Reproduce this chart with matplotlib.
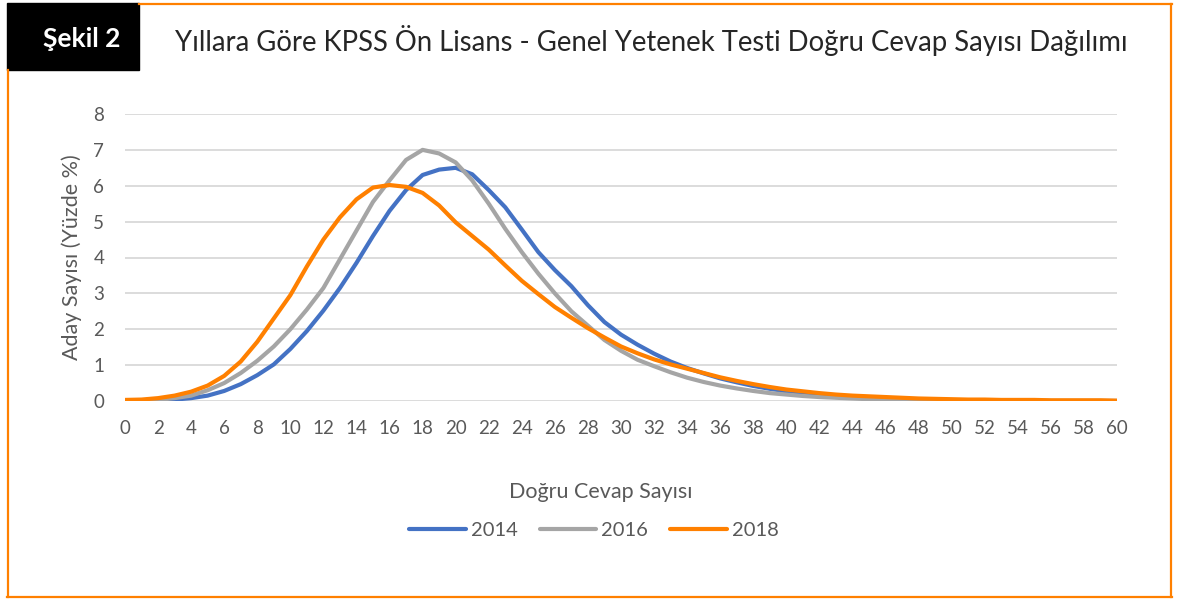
"""
KPSS Ön Lisans - Genel Yetenek Testi doğru cevap sayısı dağılımı (Şekil 2).
"""

import matplotlib
matplotlib.use("Agg")
import matplotlib.pyplot as plt
from matplotlib.lines import Line2D
from matplotlib.patches import Rectangle

W, H = 1180, 601

CORRECT_ANSWERS = list(range(0, 61))
X_TICKS = list(range(0, 61, 2))
Y_TICKS = list(range(0, 9))

SERIES_NAMES = ["2014", "2016", "2018"]

VALUES_2014 = [
    0.00, 0.01, 0.02, 0.04, 0.08, 0.15, 0.28, 0.47, 0.72, 1.02,
    1.45, 1.95, 2.52, 3.15, 3.85, 4.60, 5.30, 5.88, 6.30, 6.45,
    6.50, 6.32, 5.88, 5.40, 4.78, 4.15, 3.65, 3.20, 2.67, 2.20,
    1.85, 1.57, 1.32, 1.10, 0.92, 0.77, 0.63, 0.52, 0.42, 0.34,
    0.27, 0.22, 0.17, 0.13, 0.11, 0.08, 0.06, 0.05, 0.04, 0.03,
    0.02, 0.02, 0.01, 0.01, 0.01, 0.01, 0.00, 0.00, 0.00, 0.00,
    0.00,
]
VALUES_2016 = [
    0.00, 0.01, 0.03, 0.08, 0.15, 0.30, 0.50, 0.78, 1.12, 1.52,
    2.00, 2.55, 3.15, 3.95, 4.75, 5.55, 6.15, 6.72, 7.00, 6.90,
    6.65, 6.15, 5.50, 4.80, 4.15, 3.55, 3.00, 2.50, 2.10, 1.70,
    1.40, 1.15, 0.97, 0.80, 0.65, 0.53, 0.43, 0.35, 0.28, 0.22,
    0.18, 0.14, 0.11, 0.09, 0.07, 0.05, 0.04, 0.03, 0.02, 0.02,
    0.01, 0.01, 0.01, 0.00, 0.00, 0.00, 0.00, 0.00, 0.00, 0.00,
    0.00,
]
VALUES_2018 = [
    0.03, 0.04, 0.08, 0.15, 0.26, 0.43, 0.70, 1.10, 1.65, 2.30,
    2.95, 3.75, 4.50, 5.12, 5.62, 5.95, 6.02, 5.97, 5.80, 5.45,
    4.98, 4.60, 4.22, 3.78, 3.35, 2.98, 2.62, 2.32, 2.03, 1.77,
    1.52, 1.33, 1.16, 1.02, 0.90, 0.78, 0.66, 0.56, 0.47, 0.39,
    0.32, 0.27, 0.22, 0.18, 0.15, 0.13, 0.11, 0.09, 0.07, 0.06,
    0.05, 0.04, 0.04, 0.03, 0.03, 0.03, 0.02, 0.02, 0.02, 0.02,
    0.01,
]

COLORS = ["#4472C4", "#A5A5A5", "#FF8000"]
FRAME_COLOR = "#FF8000"
TEXT_GREY = "#595959"


def fx(px):
    return px / W


def fy(py):
    return 1 - py / H


def create_chart() -> None:
    plt.rcParams["font.family"] = ["Lato", "DejaVu Sans"]
    fig = plt.figure(figsize=(W / 100, H / 100), dpi=100)

    ax = fig.add_axes([fx(125), fy(401), fx(1117) - fx(125), fy(114) - fy(401)])
    for values, color, name in zip(
        [VALUES_2014, VALUES_2016, VALUES_2018], COLORS, SERIES_NAMES
    ):
        ax.plot(CORRECT_ANSWERS, values, color=color, lw=3,
                solid_capstyle="round", solid_joinstyle="round", label=name)

    ax.set_xlim(0, 60)
    ax.set_ylim(0, 8)
    ax.set_xticks(X_TICKS)
    ax.set_yticks(Y_TICKS)
    ax.grid(axis="y", color="#D9D9D9", lw=1.3)
    ax.set_axisbelow(True)
    for side in ax.spines.values():
        side.set_visible(False)
    ax.tick_params(length=0, labelsize=13.5, labelcolor=TEXT_GREY)
    ax.tick_params(axis="x", pad=14)
    ax.tick_params(axis="y", pad=15)

    fig.text(fx(601), fy(492), "Doğru Cevap Sayısı", ha="center",
             va="center", fontsize=15.5, color=TEXT_GREY)
    fig.text(fx(72), fy(257), "Aday Sayısı (Yüzde %)", ha="center",
             va="center", rotation=90, fontsize=15.5, color=TEXT_GREY)

    fig.legend(loc="center", bbox_to_anchor=(fx(594), fy(530)), ncol=3,
               frameon=False, fontsize=14.5, handlelength=2.8,
               handletextpad=0.25, columnspacing=1.1, labelcolor=TEXT_GREY)

    # header box and orange frame
    fig.add_artist(Rectangle((fx(7), fy(70)), fx(139) - fx(7), fy(3) - fy(70),
                             transform=fig.transFigure, color="black"))
    fig.text(fx(82), fy(39), "Şekil 2", ha="center", va="center",
             fontsize=19, fontweight="bold", color="white")
    fig.text(fx(175), fy(40), "Yıllara Göre KPSS Ön Lisans - Genel Yetenek "
             "Testi Doğru Cevap Sayısı Dağılımı", ha="left", va="center",
             fontsize=19.8, color="#262626")
    frame = [
        ([139, 1172], [4, 4]),
        ([1171, 1171], [4, 597]),
        ([7, 1172], [597, 597]),
        ([8, 8], [70, 597]),
    ]
    for xs, ys in frame:
        fig.add_artist(Line2D([fx(v) for v in xs], [fy(v) for v in ys],
                              transform=fig.transFigure, color=FRAME_COLOR,
                              lw=1.6))

    fig.savefig("out.png", dpi=100)


if __name__ == "__main__":
    create_chart()
